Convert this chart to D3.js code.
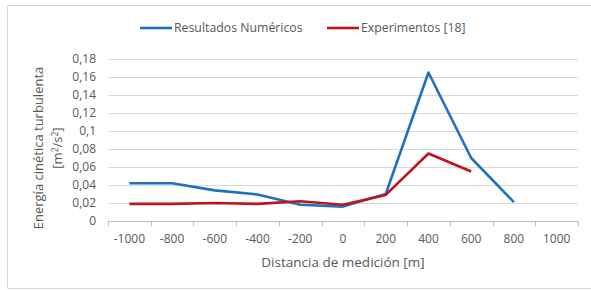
<!DOCTYPE html>
<html>
<head>
<meta charset="utf-8">
<script src="https://cdn.jsdelivr.net/npm/d3@7"></script>
<style>
  body { margin: 0; background: #fff; }
  svg text { font-family: "Open Sans", "Liberation Sans", sans-serif; fill: #595959; }
</style>
</head>
<body>
<svg width="591" height="290"></svg>
<script>
const categories = [-1000, -800, -600, -400, -200, 0, 200, 400, 600, 800, 1000];
const numericos = [0.042, 0.042, 0.034, 0.0295, 0.018, 0.016, 0.03, 0.165, 0.07, 0.021, null];
const experimentos = [0.019, 0.019, 0.020, 0.019, 0.022, 0.018, 0.029, 0.075, 0.055, null, null];
const yTicks = [0, 0.02, 0.04, 0.06, 0.08, 0.1, 0.12, 0.14, 0.16, 0.18];

const svg = d3.select('svg');

// outer frame
svg.append('rect')
    .attr('x', 7.5).attr('y', 5.5)
    .attr('width', 600).attr('height', 283)
    .attr('fill', 'none').attr('stroke', '#d9d9d9');

let x = d3.scaleBand().domain(categories).range([108, 578]);
let y = d3.scaleLinear().domain([0, 0.18]).range([221, 59]);

const fmt = v => String(+v.toFixed(2)).replace('.', ',');

// gridlines
svg.append('g')
    .selectAll('line')
    .data(yTicks.filter(d => d > 0))
    .join('line')
    .attr('x1', 108).attr('x2', 578)
    .attr('y1', d => Math.round(y(d)) + 0.5)
    .attr('y2', d => Math.round(y(d)) + 0.5)
    .attr('stroke', '#d9d9d9');

// y labels
svg.append('g')
    .selectAll('text')
    .data(yTicks)
    .join('text')
    .attr('x', 96)
    .attr('y', d => y(d) + 4)
    .attr('text-anchor', 'end')
    .style('font-size', '12px')
    .text(fmt);

// x axis
svg.append('line')
    .attr('x1', 108).attr('x2', 578)
    .attr('y1', 221.5).attr('y2', 221.5)
    .attr('stroke', '#bfbfbf');

let bounds = categories.map(c => x(c)).concat([578]);
svg.append('g')
    .selectAll('line')
    .data(bounds)
    .join('line')
    .attr('x1', d => Math.round(d) + 0.5).attr('x2', d => Math.round(d) + 0.5)
    .attr('y1', 221).attr('y2', 226)
    .attr('stroke', '#bfbfbf');

svg.append('g')
    .selectAll('text')
    .data(categories)
    .join('text')
    .attr('x', d => x(d) + x.bandwidth() / 2)
    .attr('y', 243)
    .attr('text-anchor', 'middle')
    .style('font-size', '12px')
    .text(d => d);

// series
const cx = (d, i) => x(categories[i]) + x.bandwidth() / 2;
const line = d3.line()
    .defined(d => d != null)
    .x(cx)
    .y(d => y(d));

svg.append('path')
    .datum(numericos)
    .attr('d', line)
    .attr('fill', 'none')
    .attr('stroke', '#1f70c1')
    .attr('stroke-width', 2.6)
    .attr('stroke-linejoin', 'round');

svg.append('path')
    .datum(experimentos)
    .attr('d', line)
    .attr('fill', 'none')
    .attr('stroke', '#c0141c')
    .attr('stroke-width', 2.6)
    .attr('stroke-linejoin', 'round');

// axis titles
svg.append('text')
    .attr('x', 343).attr('y', 267)
    .attr('text-anchor', 'middle')
    .style('font-size', '13.5px')
    .text('Distancia de medición [m]');

let yt = svg.append('text')
    .attr('transform', 'translate(43,148) rotate(-90)')
    .attr('text-anchor', 'middle')
    .style('font-size', '13px');
yt.append('tspan').attr('x', 0).attr('dy', 0).text('Energía cinética turbulenta');
let t2 = yt.append('tspan').attr('x', 0).attr('dy', 19).text('[m');
t2.append('tspan').attr('dy', -4).style('font-size', '8.5px').text('2');
t2.append('tspan').attr('dy', 4).text('/s');
t2.append('tspan').attr('dy', -4).style('font-size', '8.5px').text('2');
t2.append('tspan').attr('dy', 4).text(']');

// legend
const legend = [
    {name: 'Resultados Numéricos', color: '#1f70c1', x: 140},
    {name: 'Experimentos [18]', color: '#c0141c', x: 327}
];
let lg = svg.append('g')
    .selectAll('g')
    .data(legend)
    .join('g')
    .attr('transform', d => `translate(${d.x},28)`);
lg.append('line')
    .attr('x1', 0).attr('x2', 32)
    .attr('stroke', d => d.color)
    .attr('stroke-width', 2.6);
lg.append('text')
    .attr('x', 34).attr('y', 4)
    .style('font-size', '12.3px')
    .text(d => d.name);
</script>
</body>
</html>
